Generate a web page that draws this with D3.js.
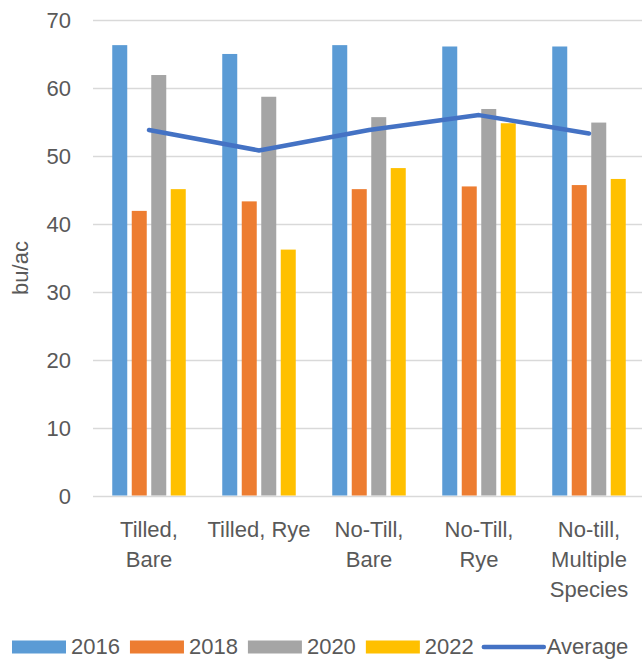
<!DOCTYPE html>
<html>
<head>
<meta charset="utf-8">
<script src="https://cdn.jsdelivr.net/npm/d3@7"></script>
<style>
  html, body { margin: 0; padding: 0; background: #fff; }
  svg { display: block; }
  text { font-family: "Liberation Sans", Arial, sans-serif; fill: #595959; }
</style>
</head>
<body>
<svg id="chart" width="642" height="660"></svg>
<script>
// ---- data ----
const categories = ["Tilled,\nBare", "Tilled, Rye", "No-Till,\nBare", "No-Till,\nRye", "No-till,\nMultiple\nSpecies"];
const seriesNames = ["2016", "2018", "2020", "2022"];
const values2016 = [66.3, 65.0, 66.3, 66.1, 66.1];
const values2018 = [41.9, 43.3, 45.1, 45.5, 45.7];
const values2020 = [61.9, 58.7, 55.7, 56.9, 54.9];
const values2022 = [45.1, 36.2, 48.2, 54.8, 46.6];
const averageValues = [53.8, 50.8, 53.8, 56.0, 53.3];
const yTicks = [0, 10, 20, 30, 40, 50, 60, 70];
const yTitle = "bu/ac";
const averageName = "Average";

const seriesValues = [values2016, values2018, values2020, values2022];
const colors = ["#5B9BD5", "#ED7D31", "#A5A5A5", "#FFC000"];
const lineColor = "#4472C4";
const fontSize = 22;

const svg = d3.select("#chart");

const x0 = d3.scaleBand().domain(categories).range([94, 644]).paddingInner(0).paddingOuter(0);
const x1 = d3.scaleBand().domain(seriesNames).range([-36.75, 36.75]).paddingInner(4.5 / 19.5).paddingOuter(0);
const y = d3.scaleLinear().domain([0, 70]).range([495.5, 20]);

// gridlines
svg.append("g").selectAll("line").data(yTicks).join("line")
  .attr("x1", 93).attr("x2", 642)
  .attr("y1", d => Math.round(y(d)) + 0.5).attr("y2", d => Math.round(y(d)) + 0.5)
  .attr("stroke", "#D9D9D9").attr("stroke-width", 1.3);

// y axis labels
const yAxis = d3.axisLeft(y).tickValues(yTicks).tickSize(0).tickPadding(0).tickFormat(d3.format("d"));
const gy = svg.append("g").attr("transform", "translate(71,0)").call(yAxis);
gy.select(".domain").remove();
gy.selectAll("text").style("font-size", fontSize + "px").attr("fill", "#595959")
  .attr("font-family", "Liberation Sans, Arial, sans-serif").attr("dy", "0.35em");

// y title
svg.append("text").attr("transform", "translate(28,268) rotate(-90)")
  .attr("text-anchor", "middle").style("font-size", fontSize + "px").text(yTitle);

// bars
const groups = svg.append("g").selectAll("g").data(categories).join("g")
  .attr("transform", d => `translate(${x0(d) + x0.bandwidth() / 2},0)`);
groups.selectAll("rect").data((c, ci) => seriesNames.map((s, si) => ({ s, si, v: seriesValues[si][ci] })))
  .join("rect")
  .attr("x", d => x1(d.s)).attr("width", x1.bandwidth())
  .attr("y", d => y(d.v)).attr("height", d => y(0) - y(d.v))
  .attr("fill", d => colors[d.si]);

// average line
const line = d3.line().x((d, i) => x0(categories[i]) + x0.bandwidth() / 2).y(d => y(d));
svg.append("path").datum(averageValues).attr("d", line)
  .attr("fill", "none").attr("stroke", lineColor).attr("stroke-width", 4.5)
  .attr("stroke-linejoin", "round").attr("stroke-linecap", "round");

// category labels
const xAxis = d3.axisBottom(x0).tickSize(0).tickFormat("");
const gx = svg.append("g").attr("transform", `translate(0,${y(0)})`).call(xAxis);
gx.select(".domain").remove();
svg.append("g").selectAll("text").data(categories).join("text")
  .attr("text-anchor", "middle").style("font-size", fontSize + "px")
  .attr("x", d => x0(d) + x0.bandwidth() / 2)
  .each(function (d) {
    const t = d3.select(this);
    d.split("\n").forEach((ln, i) => {
      t.append("tspan").attr("x", x0(d) + x0.bandwidth() / 2).attr("y", 537 + i * 30).text(ln);
    });
  });

// legend
const legend = svg.append("g");
let lx = 12;
const ly = 646;
seriesNames.forEach((s, i) => {
  legend.append("rect").attr("x", lx).attr("y", ly - 5.5).attr("width", 54).attr("height", 13).attr("fill", colors[i]);
  const t = legend.append("text").attr("x", lx + 59).attr("y", ly).attr("dy", "0.35em")
    .style("font-size", fontSize + "px").text(s);
  lx = lx + 59 + t.node().getComputedTextLength() + 10;
});
legend.append("line").attr("x1", lx).attr("x2", lx + 60).attr("y1", ly + 1).attr("y2", ly + 1)
  .attr("stroke", lineColor).attr("stroke-width", 4.5).attr("stroke-linecap", "round");
legend.append("text").attr("x", lx + 63).attr("y", ly).attr("dy", "0.35em")
  .style("font-size", fontSize + "px").text(averageName);
</script>
</body>
</html>
